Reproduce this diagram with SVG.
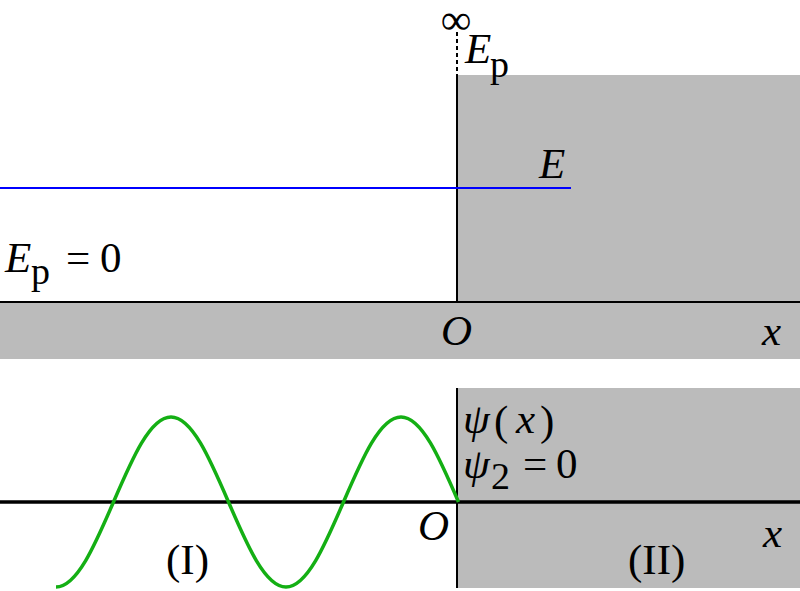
<svg xmlns="http://www.w3.org/2000/svg" width="800" height="591" viewBox="0 0 800 591">
<style>
.bg{fill:#bbbbbb}
.it{font-family:"Liberation Serif","Times New Roman",serif;font-style:italic;font-size:43px;fill:#000}
.rm{font-family:"Liberation Serif","Times New Roman",serif;font-size:43px;fill:#000}
.sub{font-size:38px}
.ln{stroke:#000;fill:none}
</style>
<rect width="800" height="591" fill="#fff"/>
<g id="top-panel">
  <rect class="bg" x="457" y="75" width="343" height="228"/>
  <rect class="bg" x="0" y="303" width="800" height="56"/>
</g>
<g id="bottom-panel">
  <rect class="bg" x="457" y="388" width="343" height="200"/>
</g>
<g id="connectors">
  <line class="ln" x1="457" y1="32" x2="457" y2="75" stroke-width="2" stroke-dasharray="4,3"/>
  <line class="ln" x1="457" y1="75" x2="457" y2="302" stroke-width="2"/>
  <line class="ln" x1="0" y1="302" x2="800" y2="302" stroke-width="2"/>
  <line x1="0" y1="188" x2="571" y2="188" stroke="#0000ff" stroke-width="2"/>
  <line class="ln" x1="457" y1="388" x2="457" y2="588" stroke-width="2"/>
  <line class="ln" x1="0" y1="502" x2="800" y2="502" stroke-width="3.5"/>
  <path id="wave" fill="none" stroke="#14af14" stroke-width="3.5" d="M56,587 c20.81,0 38.75,-41.45 57.5,-85 c18.75,-43.55 36.69,-85 57.5,-85 c20.81,0 38.75,41.45 57.5,85 c18.75,43.55 36.69,85 57.5,85 c20.81,0 38.75,-41.45 57.5,-85 c18.75,-43.55 36.69,-85 57.5,-85 c20.81,0 38.75,41.45 57.5,85"/>
</g>
<g id="labels">
  <text class="rm" x="456" y="34" text-anchor="middle" font-size="48">∞</text>
  <text class="it" x="465" y="63">E</text>
  <text class="rm sub" x="490" y="77">p</text>
  <text class="it" x="539" y="178">E</text>
  <text class="it" x="5" y="272">E</text>
  <text class="rm sub" x="31" y="284">p</text>
  <text class="rm" x="66" y="272">=</text>
  <text class="rm" x="100" y="272">0</text>
  <text class="it" x="441" y="345">O</text>
  <text class="it" x="762" y="345">x</text>
  <text class="it" x="463" y="433">ψ</text>
  <text class="rm" x="494" y="435" font-size="48">(</text>
  <text class="it" x="516" y="433">x</text>
  <text class="rm" x="540" y="435" font-size="48">)</text>
  <text class="it" x="463" y="478">ψ</text>
  <text class="rm sub" x="491" y="489" font-size="34">2</text>
  <text class="rm" x="523" y="478">=</text>
  <text class="rm" x="556" y="478">0</text>
  <text class="it" x="418" y="540">O</text>
  <text class="it" x="763" y="547">x</text>
  <text class="rm" x="166" y="574" font-size="40">(I)</text>
  <text class="rm" x="628" y="574" font-size="40">(II)</text>
</g>
</svg>
